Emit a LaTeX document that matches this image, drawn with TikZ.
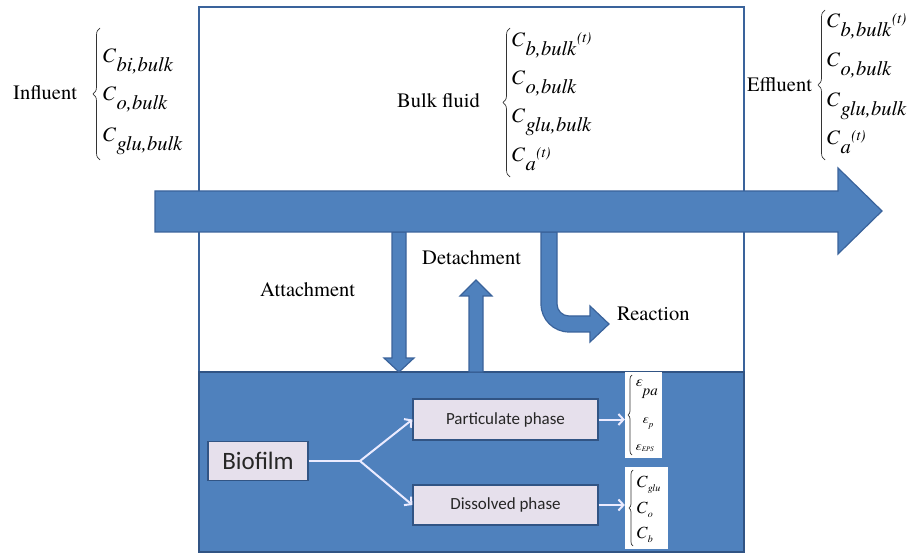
\documentclass[tikz,border=0pt]{standalone}
\usepackage{fontspec}
\setmainfont{TeX Gyre Termes}
\newfontfamily\boxfont{Carlito}
\usetikzlibrary{arrows.meta,decorations.pathreplacing}

\definecolor{fillblue}{HTML}{4F81BD}
\definecolor{lineblue}{HTML}{3A639B}
\definecolor{phasefill}{HTML}{E6E0EC}

% concentration symbol: italic C with a lowered, full-size index
\newcommand\Cq[2]{\textit{C}\kern0.3pt\raisebox{-0.42em}{\textit{#1}}#2}
% time dependence mark
\newcommand\tdep{\raisebox{0.2em}{\fontsize{15}{15}\selectfont\kern0.5pt\textit{(t)}}}

\tikzset{
  lab/.style={inner sep=0pt, font=\fontsize{20.5}{24}\selectfont},
  small/.style={inner sep=0pt},
  curly/.style={decorate, decoration={brace, amplitude=#1}, line width=0.7pt, black!80},
  blockarrow/.style={fill=fillblue, draw=lineblue, line width=1.2pt},
  phase/.style={draw=lineblue!85!black, line width=1.2pt, fill=phasefill, inner sep=0pt,
    font=\boxfont\fontsize{17}{20}\selectfont, text=black!85},
  listbox/.style={fill=white, draw=none, inner sep=0pt},
  wline/.style={draw=white!92!blue, line width=2pt},
  warrow/.style={wline, -{Straight Barb[length=5pt,width=11pt]}}
}

\begin{document}
\begin{tikzpicture}[x=1pt,y=1pt]
\useasboundingbox (0,0) rectangle (911,-556);

% reactor outline and biofilm compartment
\draw[lineblue, line width=2.5pt] (199,-7) rectangle (744,-552);
\draw[fill=fillblue, draw=lineblue!85!black, line width=2.5pt] (199,-372) rectangle (744,-552);

% exchange arrows between bulk fluid and biofilm
\draw[blockarrow] (392,-232) -- (406,-232) -- (406,-358) -- (414,-358) -- (399,-372)
  -- (384,-358) -- (392,-358) -- cycle;
\draw[blockarrow] (469,-372) -- (469,-296) -- (460,-296) -- (476,-280) -- (492,-296)
  -- (483,-296) -- (483,-372) -- cycle;
\draw[blockarrow] (541,-232) -- (541,-304) arc[start angle=180, end angle=270, radius=28]
  -- (590,-332) -- (590,-342) -- (609,-324) -- (590,-306) -- (590,-316) -- (569,-316)
  arc[start angle=270, end angle=180, radius=12] -- (557,-232) -- cycle;

% main flow through the reactor
\draw[blockarrow] (155,-191) -- (838,-191) -- (838,-168) -- (882,-211) -- (838,-254)
  -- (838,-232) -- (155,-232) -- cycle;

% influent
\node[lab, anchor=base west] (influent) at (13,-100) {Influent};
\node[lab, anchor=base west] (in1) at (102,-63) {\Cq{bi,bulk}{}};
\node[lab, anchor=base west] (in2) at (102,-101) {\Cq{o,bulk}{}};
\node[lab, anchor=base west] (in3) at (102,-142) {\Cq{glu,bulk}{}};
\draw[curly=7pt] (100,-160) -- (100,-28);

% bulk fluid
\node[lab, anchor=base west] (bulk) at (397,-108) {Bulk fluid};
\node[lab, anchor=base west] (bk1) at (511,-47) {\Cq{b,bulk}{\tdep}};
\node[lab, anchor=base west] (bk2) at (511,-85) {\Cq{o,bulk}{}};
\node[lab, anchor=base west] (bk3) at (511,-123) {\Cq{glu,bulk}{}};
\node[lab, anchor=base west] (bk4) at (511,-162) {\Cq{a}{\tdep}};
\draw[curly=7pt] (510,-177) -- (510,-28);

% effluent
\node[lab, anchor=base west] (effluent) at (747,-92) {Effluent};
\node[lab, anchor=base west] (ef1) at (826,-28) {\Cq{b,bulk}{\tdep}};
\node[lab, anchor=base west] (ef2) at (826,-67) {\Cq{o,bulk}{}};
\node[lab, anchor=base west] (ef3) at (826,-107) {\Cq{glu,bulk}{}};
\node[lab, anchor=base west] (ef4) at (826,-145) {\Cq{a}{\tdep}};
\draw[curly=7pt] (825,-160) -- (825,-10);

% process labels
\node[lab, anchor=base west] (attach) at (260,-297) {Attachment};
\node[lab, anchor=base west] (detach) at (422,-265) {Detachment};
\node[lab, anchor=base west] (react) at (617,-320) {Reaction};

% biofilm phases
\node[phase, minimum width=100, minimum height=39, font=\boxfont\fontsize{25}{28}\selectfont]
  (bio) at (258,-461) {Biofilm};
\node[phase, minimum width=185, minimum height=41] (part) at (505.5,-419.5) {Particulate phase};
\node[phase, minimum width=185, minimum height=40] (diss) at (505.5,-505) {Dissolved phase};

\node[listbox, minimum width=37, minimum height=86] (epsbox) at (643.5,-415) {};
\node[listbox, minimum width=43, minimum height=82] (cbox) at (646.5,-508) {};

\coordinate (split) at (360,-461);
\draw[wline] (bio.east) -- (split);
\draw[warrow] (split) -- (part.west);
\draw[warrow] (split) -- (diss.west);
\draw[warrow] (part.east) -- (part.east -| epsbox.west);
\draw[warrow] (diss.east) -- (diss.east -| cbox.west);

% volume fractions of the particulate phase
\draw[curly=4pt] (632,-455) -- (632,-375);
\node[small, anchor=base west] (e1) at (635,-386)
  {\fontsize{15}{15}\selectfont\textit{ε}\raisebox{-0.6em}{\textit{pa}}};
\node[small, anchor=base west] (e2) at (642,-423)
  {\fontsize{13}{13}\selectfont\textit{ε}\raisebox{-0.35em}{\fontsize{9}{9}\selectfont\textit{p}}};
\node[small, anchor=base west] (e3) at (635,-450)
  {\fontsize{13}{13}\selectfont\textit{ε}\raisebox{-0.15em}{\fontsize{7}{7}\selectfont\textit{EPS}}};

% dissolved concentrations inside the biofilm
\draw[curly=4pt] (633,-546) -- (633,-470);
\node[small, anchor=base west] (c1) at (636,-487)
  {\fontsize{17}{17}\selectfont\textit{C}\raisebox{-0.25em}{\fontsize{10}{10}\selectfont\textit{glu}}};
\node[small, anchor=base west] (c2) at (636,-513)
  {\fontsize{17}{17}\selectfont\textit{C}\raisebox{-0.25em}{\fontsize{10}{10}\selectfont\textit{o}}};
\node[small, anchor=base west] (c3) at (636,-538)
  {\fontsize{17}{17}\selectfont\textit{C}\raisebox{-0.25em}{\fontsize{10}{10}\selectfont\textit{b}}};
\end{tikzpicture}
\end{document}
